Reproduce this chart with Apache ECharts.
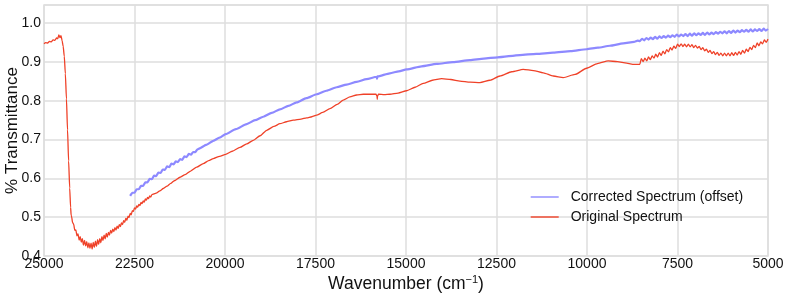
<!DOCTYPE html>
<html>
<head>
<meta charset="utf-8">
<script src="https://cdn.jsdelivr.net/npm/echarts@6/dist/echarts.min.js"></script>
<style>
html,body{margin:0;padding:0;background:#fff;}
#c{width:789px;height:297px;}
</style>
</head>
<body>
<div id="c"></div>
<script>
// ---- DATA: [wavenumber (cm^-1), transmittance] ----
const xTicks = [25000, 22500, 20000, 17500, 15000, 12500, 10000, 7500, 5000];
const yTicks = [0.4, 0.5, 0.6, 0.7, 0.8, 0.9, 1.0];
const seriesNames = ['Corrected Spectrum (offset)', 'Original Spectrum'];

// Original spectrum: high-wavenumber edge and absorption drop
const origHead = [
  [25000,0.947],[24950,0.950],[24900,0.949],[24850,0.953],[24800,0.952],[24750,0.957],
  [24700,0.956],[24650,0.962],[24620,0.960],[24590,0.970],[24560,0.963],[24530,0.968],
  [24500,0.955],[24470,0.940],[24440,0.915],[24410,0.870],[24380,0.805],[24350,0.725],
  [24320,0.645],[24290,0.575],[24265,0.525],[24250,0.505]
];
// Original spectrum: noisy minimum
const origMin = [
  [24240,0.503],[24210,0.486],[24180,0.482],[24150,0.466],[24120,0.467],[24090,0.452],
  [24060,0.457],[24030,0.441],[24000,0.450],[23970,0.436],[23940,0.445],[23910,0.428],
  [23880,0.440],[23850,0.426],[23820,0.437],[23790,0.421],[23760,0.434],[23730,0.420],
  [23700,0.433],[23670,0.418],[23640,0.435],[23610,0.422],[23580,0.438],[23550,0.425],
  [23520,0.442],[23490,0.430],[23460,0.445],[23430,0.434],[23400,0.450],[23370,0.440],
  [23340,0.454],[23310,0.444],[23280,0.458],[23250,0.449],[23220,0.461],[23190,0.454],
  [23160,0.466],[23130,0.459],[23100,0.469],[23070,0.463],[23040,0.473],[23010,0.467],
  [22980,0.477],[22950,0.471],[22920,0.481],[22890,0.476],[22860,0.485],[22830,0.481],
  [22800,0.491],[22770,0.487],[22740,0.497],[22710,0.492],[22680,0.503],[22650,0.499],
  [22620,0.510],[22590,0.506],[22560,0.517],[22530,0.515],[22500,0.524],[22470,0.521],
  [22440,0.529],[22410,0.526],[22380,0.533],[22350,0.530],[22320,0.538],[22290,0.535],
  [22260,0.542],[22230,0.539],[22200,0.547],[22170,0.544],[22140,0.551],[22110,0.548],
  [22080,0.555],[22050,0.552],[22020,0.558]
];
// Original spectrum: smooth interference region
const origMid = [
  [21900,0.562],[21800,0.568],[21705,0.574],[21600,0.580],[21500,0.587],[21400,0.594],
  [21243,0.603],[21100,0.610],[20950,0.619],[20782,0.629],[20600,0.638],[20450,0.646],
  [20324,0.651],[20150,0.657],[19981,0.662],[19800,0.670],[19587,0.680],[19400,0.689],
  [19220,0.698],[19030,0.710],[18850,0.724],[18650,0.734],[18482,0.741],[18300,0.746],
  [18114,0.750],[17900,0.753],[17745,0.756],[17600,0.759],[17469,0.763],[17300,0.770],
  [17101,0.780],[16900,0.791],[16733,0.802],[16550,0.810],[16364,0.815],[16180,0.817],
  [15996,0.817],[15830,0.817],[15800,0.812],[15794,0.804],[15788,0.812],[15760,0.817],
  [15600,0.816],[15444,0.817],[15220,0.820],[14983,0.826],[14750,0.835],[14523,0.845],
  [14270,0.853],[14016,0.857],[13760,0.855],[13510,0.851],[13230,0.848],[12957,0.847],
  [12680,0.853],[12405,0.864],[12080,0.875],[11761,0.881],[11480,0.878],[11208,0.872],
  [10930,0.864],[10656,0.860],[10330,0.868],[10011,0.884],[9710,0.896],[9414,0.903],
  [9160,0.901],[8906,0.897],[8700,0.894],[8540,0.894]
];
// Original spectrum: noisy low-wavenumber tail
const origTail = [
  [8500,0.909],[8450,0.901],[8400,0.910],[8350,0.903],[8300,0.913],[8250,0.906],
  [8200,0.916],[8150,0.910],[8100,0.920],[8050,0.913],[8000,0.924],[7950,0.917],
  [7900,0.928],[7850,0.921],[7800,0.932],[7750,0.926],[7700,0.937],[7650,0.931],
  [7600,0.941],[7550,0.935],[7500,0.946],[7450,0.940],[7400,0.947],[7350,0.940],
  [7300,0.946],[7250,0.939],[7200,0.946],[7150,0.939],[7100,0.945],[7050,0.937],
  [7000,0.943],[6950,0.936],[6900,0.940],[6850,0.932],[6800,0.937],[6750,0.929],
  [6700,0.933],[6650,0.925],[6600,0.930],[6550,0.922],[6500,0.927],[6450,0.919],
  [6400,0.925],[6350,0.917],[6300,0.923],[6250,0.916],[6200,0.923],[6150,0.916],
  [6100,0.923],[6050,0.916],[6000,0.924],[5950,0.917],[5900,0.925],[5850,0.918],
  [5800,0.927],[5750,0.920],[5700,0.930],[5650,0.923],[5600,0.933],[5550,0.927],
  [5500,0.938],[5450,0.932],[5400,0.943],[5350,0.937],[5300,0.949],[5250,0.942],
  [5200,0.952],[5150,0.947],[5100,0.957],[5050,0.951],[5000,0.959]
];

// Corrected spectrum (offset)
const corrHead = [
  [22620,0.555],[22560,0.563],[22500,0.563],[22440,0.572],[22380,0.572],[22320,0.581],
  [22260,0.581],[22200,0.590],[22140,0.590],[22080,0.599],[22020,0.598],[21960,0.607],
  [21900,0.606],[21840,0.615],[21780,0.614],[21720,0.623],[21660,0.622],[21600,0.631],
  [21540,0.629],[21480,0.638],[21420,0.636],[21360,0.644],[21300,0.642],[21240,0.650],
  [21180,0.648],[21120,0.657],[21060,0.655],[21000,0.663],[20940,0.661],[20880,0.668],
  [20820,0.668],[20760,0.675]
];
const corrMid = [
  [20500,0.687],[20324,0.697],[20150,0.705],[19981,0.714],[19700,0.727],[19401,0.740],
  [19170,0.750],[18943,0.759],[18710,0.769],[18482,0.778],[18250,0.787],[18020,0.796],
  [17750,0.807],[17469,0.817],[17200,0.826],[16916,0.835],[16640,0.842],[16364,0.849],
  [16090,0.856],[15811,0.862],[15800,0.857],[15790,0.863],[15444,0.871],[15200,0.876],
  [14983,0.881],[14570,0.889],[14154,0.895],[13700,0.900],[13234,0.905],[12850,0.909],
  [12469,0.912],[11854,0.918],[11400,0.921],[10934,0.924],[10450,0.928],[10011,0.933],
  [9700,0.937],[9368,0.942],[9000,0.948],[8700,0.952]
];
const corrTail = [
  [8600,0.955],[8540,0.954],[8480,0.960],[8420,0.956],[8360,0.962],[8300,0.958],
  [8240,0.963],[8180,0.959],[8120,0.965],[8060,0.960],[8000,0.966],[7940,0.962],
  [7880,0.967],[7820,0.963],[7760,0.968],[7700,0.964],[7640,0.969],[7580,0.965],
  [7520,0.971],[7460,0.966],[7400,0.971],[7340,0.967],[7280,0.972],[7220,0.967],
  [7160,0.973],[7100,0.968],[7040,0.974],[6980,0.969],[6920,0.974],[6860,0.970],
  [6800,0.975],[6740,0.970],[6680,0.976],[6620,0.971],[6560,0.976],[6500,0.972],
  [6440,0.977],[6380,0.973],[6320,0.978],[6260,0.974],[6200,0.979],[6140,0.974],
  [6080,0.980],[6020,0.975],[5960,0.981],[5900,0.976],[5840,0.981],[5780,0.977],
  [5720,0.982],[5660,0.978],[5600,0.983],[5540,0.978],[5480,0.984],[5420,0.979],
  [5360,0.984],[5300,0.980],[5240,0.985],[5180,0.980],[5120,0.986],[5060,0.981],
  [5000,0.985]
];

const original = origHead.concat(origMin, origMid, origTail);
const corrected = corrHead.concat(corrMid, corrTail);

const FONT = 'Liberation Sans, Arial, Helvetica, sans-serif';
const chart = echarts.init(document.getElementById('c'), null, {renderer: 'canvas'});
const gridColor = '#dedede';

chart.setOption({
  animation: false,
  backgroundColor: '#ffffff',
  grid: {left: 44, right: 21, top: 5, bottom: 41, containLabel: false, outerBoundsMode: 'none',
         show: true, borderColor: gridColor, borderWidth: 1.5, backgroundColor: '#fff'},
  legend: {
    orient: 'vertical', left: 530, top: 190, padding: 0,
    itemWidth: 28, itemHeight: 14, itemGap: 6,
    data: seriesNames,
    itemStyle: {opacity: 0},
    lineStyle: {width: 1.4, opacity: 1},
    textStyle: {fontFamily: FONT, fontSize: 14, color: '#111', padding: [0, 0, 0, 7]}
  },
  xAxis: {
    type: 'value', inverse: true,
    min: xTicks[xTicks.length - 1], max: xTicks[0], interval: xTicks[0] - xTicks[1],
    name: '{a|Wavenumber (cm}{s|−1}{a|)}',
    nameLocation: 'middle', nameGap: 18, nameMoveOverlap: false,
    nameTextStyle: {
      rich: {
        a: {fontFamily: FONT, fontSize: 17.5, color: '#111', lineHeight: 20},
        s: {fontFamily: FONT, fontSize: 11, color: '#111', lineHeight: 11, verticalAlign: 'top'}
      }
    },
    axisLine: {show: false}, axisTick: {show: false},
    axisLabel: {fontFamily: FONT, fontSize: 14, color: '#111', margin: 1,
                formatter: v => xTicks.indexOf(v) >= 0 ? String(v) : ''},
    splitLine: {show: true, lineStyle: {color: gridColor, width: 1.5}}
  },
  yAxis: {
    type: 'value', min: yTicks[0], max: 1.047, interval: 0.1,
    name: '% Transmittance', nameLocation: 'middle', nameGap: 23, nameMoveOverlap: false,
    nameTextStyle: {fontFamily: FONT, fontSize: 17, color: '#111'},
    axisLine: {show: false}, axisTick: {show: false},
    axisLabel: {fontFamily: FONT, fontSize: 14, color: '#111', margin: 3, showMaxLabel: false,
                formatter: v => {
                  const m = yTicks.find(t => Math.abs(t - v) < 1e-6);
                  return m === undefined ? '' : m.toFixed(1);
                }},
    splitLine: {show: true, lineStyle: {color: gridColor, width: 1.5}}
  },
  series: [
    {name: seriesNames[0], type: 'line', data: corrected, symbol: 'none',
     smooth: 0.2, smoothMonotone: 'x',
     lineStyle: {color: '#8d89ff', width: 2.2}, itemStyle: {color: '#8d89ff'}},
    {name: seriesNames[1], type: 'line', data: original, symbol: 'none',
     smooth: 0.2, smoothMonotone: 'x',
     lineStyle: {color: '#ef4128', width: 1.3}, itemStyle: {color: '#ef4128'}}
  ]
});
</script>
</body>
</html>
